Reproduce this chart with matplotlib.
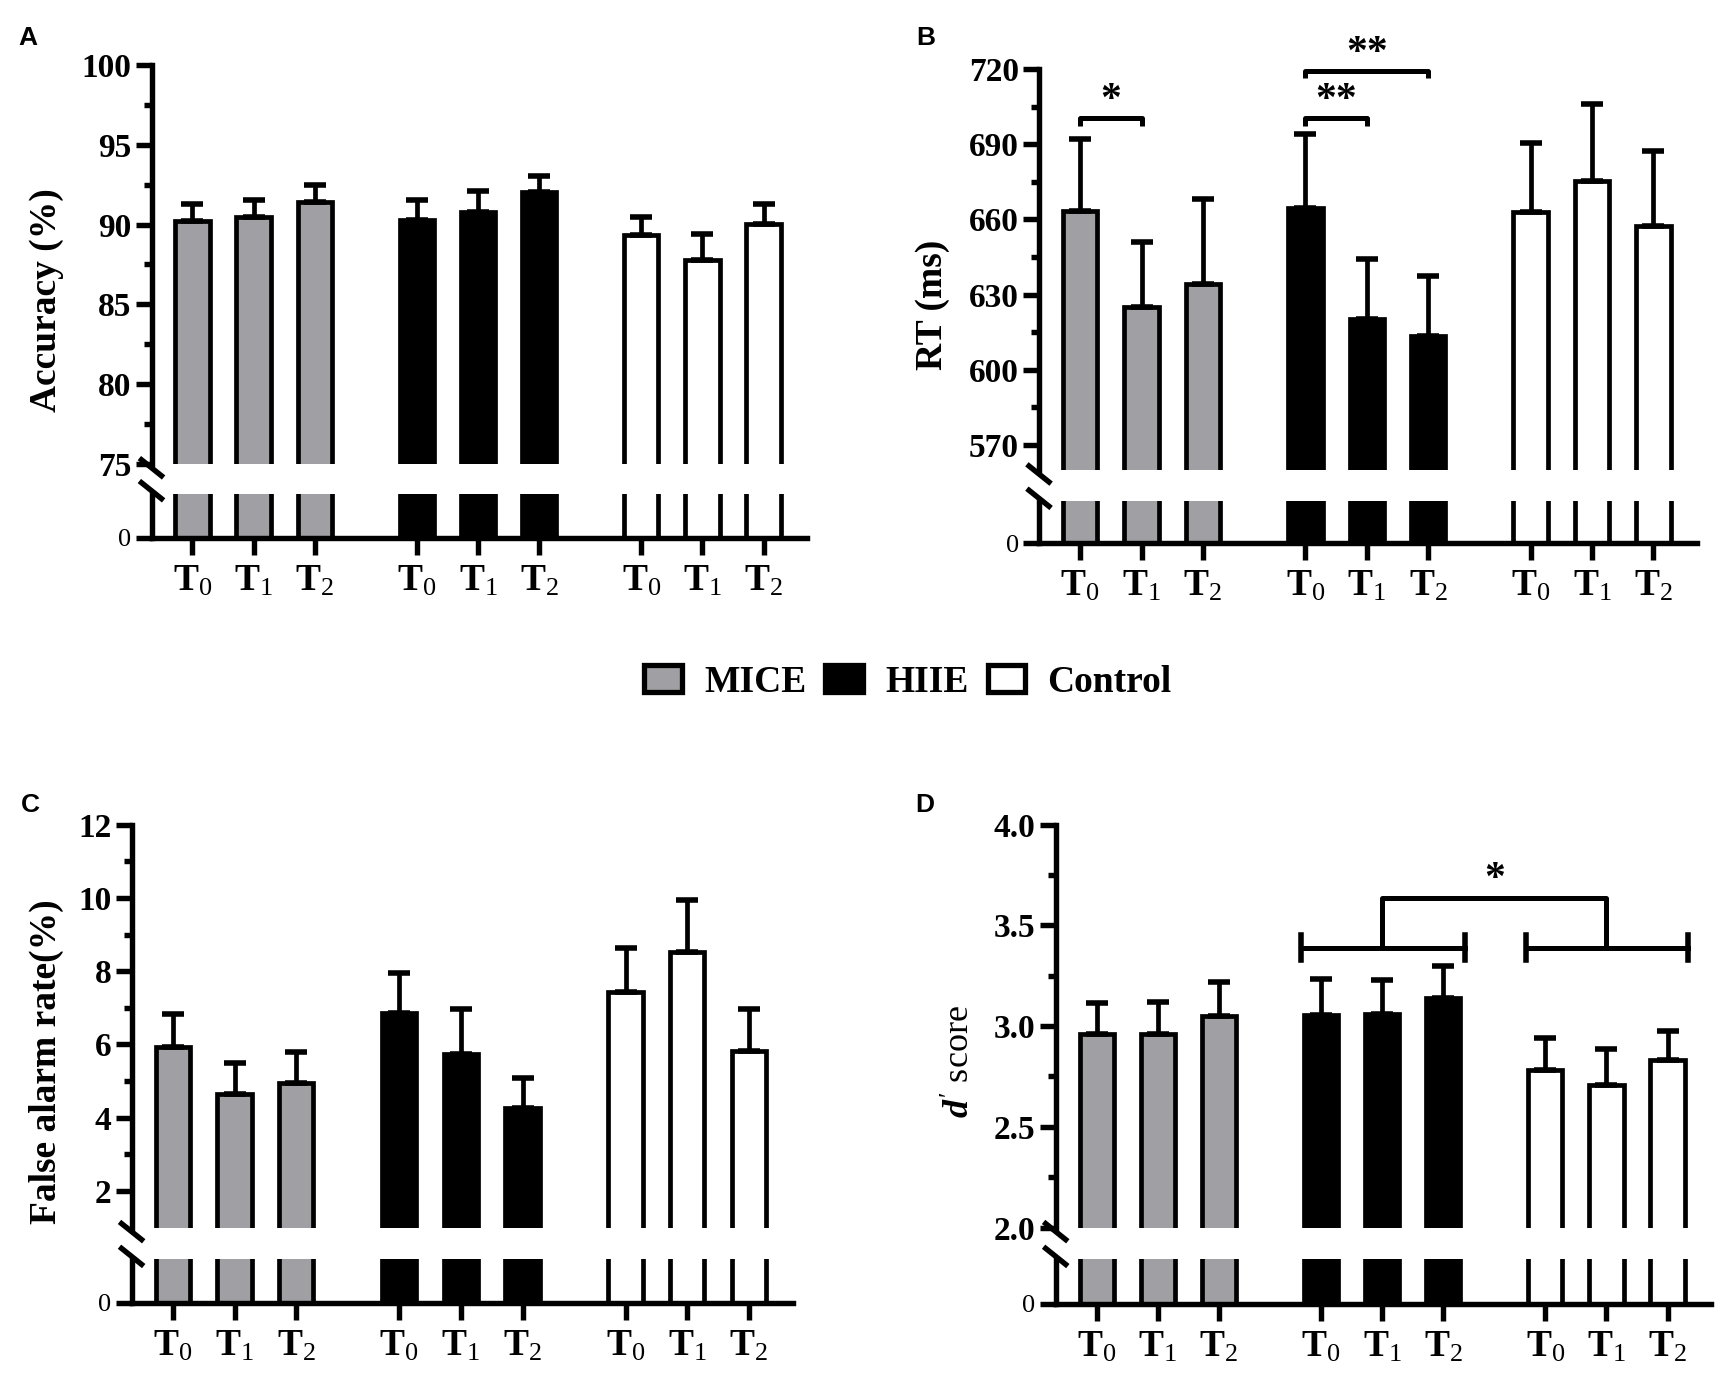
import numpy as np
import matplotlib
matplotlib.use('Agg')
import matplotlib.pyplot as plt
from matplotlib.patches import Patch
from matplotlib.lines import Line2D

plt.rcParams['font.family'] = ['Liberation Serif', 'DejaVu Serif']
plt.rcParams['font.weight'] = 'bold'
plt.rcParams['mathtext.fontset'] = 'custom'
plt.rcParams['mathtext.rm'] = 'Liberation Serif:weight=normal'
plt.rcParams['mathtext.bf'] = 'Liberation Serif:weight=bold'
plt.rcParams['mathtext.it'] = 'Liberation Serif:italic:weight=bold'

groups = ['MICE', 'HIIE', 'Control']
times = [r'$\mathbf{T}_{0}$', r'$\mathbf{T}_{1}$', r'$\mathbf{T}_{2}$']
group_colors = ['#a0a0a4', 'black', 'white']

# order: MICE T0-T2, HIIE T0-T2, Control T0-T2
acc_mean = [90.2, 90.5, 91.4, 90.3, 90.8, 92.05, 89.35, 87.75, 90.05]
acc_err = [1.08, 1.03, 1.06, 1.27, 1.32, 0.98, 1.15, 1.65, 1.25]
rt_mean = [663.3, 625.1, 634.2, 664.5, 620.1, 613.4, 662.9, 675.4, 657.4]
rt_err = [28.9, 25.9, 34.1, 29.4, 24.0, 24.0, 27.5, 30.6, 30.0]
fa_mean = [5.92, 4.66, 4.96, 6.87, 5.75, 4.26, 7.44, 8.51, 5.82]
fa_err = [0.91, 0.82, 0.82, 1.07, 1.21, 0.82, 1.20, 1.44, 1.15]
d_mean = [2.96, 2.96, 3.05, 3.055, 3.06, 3.14, 2.78, 2.71, 2.83]
d_err = [0.155, 0.162, 0.167, 0.181, 0.167, 0.16, 0.162, 0.177, 0.148]

W, H = 1729, 1375
LW = 3.4
SPW = 3.9
fig = plt.figure(figsize=(W / 100, H / 100), dpi=100)

pos = np.array([g * 3.67 + i for g in range(3) for i in range(3)])
colors = [c for c in group_colors for _ in range(3)]
XLIM = (-0.67, pos[-1] + 0.71)


def px_axes(x0, y0, x1, y1):
    return fig.add_axes([x0 / W, 1 - y1 / H, (x1 - x0) / W, (y1 - y0) / H])


def draw_bars(ax, mean, err):
    ax.bar(pos, mean, width=0.56, color=colors, edgecolor='black', linewidth=LW)
    ax.errorbar(pos, mean, yerr=[np.zeros(len(mean)), err], fmt='none', ecolor='black',
                elinewidth=LW, capsize=8, capthick=LW + 0.6)


def panel(box, ylim, major, minor, fmt, mean, err):
    sx, rx, ytop, ycut, ylow, yzero = box
    top = px_axes(sx, ytop, rx, ycut)
    low = px_axes(sx, ylow, rx, yzero)
    for ax in (top, low):
        ax.set_xlim(*XLIM)
        draw_bars(ax, mean, err)
        ax.spines['right'].set_visible(False)
        ax.spines['top'].set_visible(False)
        ax.spines['left'].set_linewidth(SPW)
        ax.spines['bottom'].set_linewidth(SPW)
        ax.tick_params(axis='y', which='major', length=11.5, width=SPW, labelsize=24, pad=3)
        ax.tick_params(axis='y', which='minor', length=6, width=SPW)
    top.set_ylim(*ylim)
    top.set_yticks(major)
    top.set_yticks(minor, minor=True)
    top.set_yticklabels([fmt % v for v in major])
    top.spines['bottom'].set_visible(False)
    top.set_xticks([])
    low.set_ylim(0, 1)
    low.set_yticks([0])
    low.set_yticklabels(['0'], fontsize=19, fontweight='normal')
    low.set_xticks(pos)
    low.set_xticklabels(times * 3, fontsize=27)
    low.tick_params(axis='x', length=12.5, width=SPW, pad=6)
    # break marks on the y axis
    for yc in (ycut + 4, ylow - 3):
        fig.add_artist(Line2D([(sx - 10) / W, (sx + 10) / W],
                              [1 - (yc - 8) / H, 1 - (yc + 8) / H],
                              color='black', linewidth=SPW))
    return top


def bracket(ax, x0, x1, y, drop, text, ty):
    ax.plot([x0, x0, x1, x1], [y - drop, y, y, y - drop], color='black',
            linewidth=3.6, clip_on=False, solid_capstyle='butt')
    ax.text((x0 + x1) / 2, ty, text, ha='center', va='bottom', fontsize=30, clip_on=False)


# A
axA = panel((151.5, 807, 65.1, 463.8, 493.7, 537.7), (75, 100),
            [75, 80, 85, 90, 95, 100], np.arange(77.5, 100, 5), '%d', acc_mean, acc_err)
# B
axB = panel((1039, 1697, 68.9, 470, 501.3, 543.4), (560, 720),
            [570, 600, 630, 660, 690, 720], np.arange(585, 720, 30), '%d', rt_mean, rt_err)
bracket(axB, pos[0], pos[1], 700.4, 3, '*', 699.5)
bracket(axB, pos[3], pos[4], 700.4, 3, '**', 699.5)
bracket(axB, pos[3], pos[5], 719.2, 3, '**', 718.3)
# C
axC = panel((131.6, 792.6, 824.6, 1227.6, 1259.4, 1302.7), (1, 12),
            [2, 4, 6, 8, 10, 12], np.arange(3, 12, 2), '%d', fa_mean, fa_err)
# D
axD = panel((1055.7, 1711, 824.6, 1227.6, 1259.4, 1303.7), (2, 4),
            [2.0, 2.5, 3.0, 3.5, 4.0], np.arange(2.25, 4, 0.5), '%.1f', d_mean, d_err)
yb = 3.39
for a, b in ((pos[3] - 0.32, pos[5] + 0.35), (pos[6] - 0.32, pos[8] + 0.34)):
    axD.plot([a, b], [yb, yb], color='black', linewidth=3.6, clip_on=False)
    axD.plot([a, a], [yb - 0.06, yb + 0.06], color='black', linewidth=4.0, clip_on=False)
    axD.plot([b, b], [yb - 0.06, yb + 0.06], color='black', linewidth=4.0, clip_on=False)
axD.plot([pos[4], pos[4], pos[7], pos[7]], [yb, 3.637, 3.637, yb], color='black',
         linewidth=3.6, clip_on=False)
axD.text((pos[4] + pos[7]) / 2, 3.633, '*', ha='center', va='bottom', fontsize=30)

# y labels
fig.text(47 / W, 1 - 300 / H, 'Accuracy (%)', rotation=90, ha='center', va='center', fontsize=27)
fig.text(933 / W, 1 - 305 / H, 'RT (ms)', rotation=90, ha='center', va='center', fontsize=27)
fig.text(46 / W, 1 - 1062 / H, 'False alarm rate(%)', rotation=90, ha='center', va='center', fontsize=27)
fig.text(961 / W, 1 - 1062 / H, r"$d'$ score", rotation=90, ha='center', va='center',
         fontsize=26, fontweight='normal')

# panel letters
for letter, x, y in (('A', 28, 38), ('B', 926, 38), ('C', 30, 805), ('D', 925, 805)):
    fig.text(x / W, 1 - y / H, letter, ha='center', va='center', fontsize=19,
             family='Liberation Sans', fontweight='bold')

handles = [Patch(facecolor=c, edgecolor='black', linewidth=3.8, label=g)
           for g, c in zip(groups, group_colors)]
fig.legend(handles=handles, loc='center', bbox_to_anchor=(908 / W, 1 - 682 / H), ncol=3,
           frameon=False, fontsize=27, handlelength=1.0, handleheight=0.75,
           handletextpad=0.6, columnspacing=0.5)

fig.savefig('out.png', dpi=100)
